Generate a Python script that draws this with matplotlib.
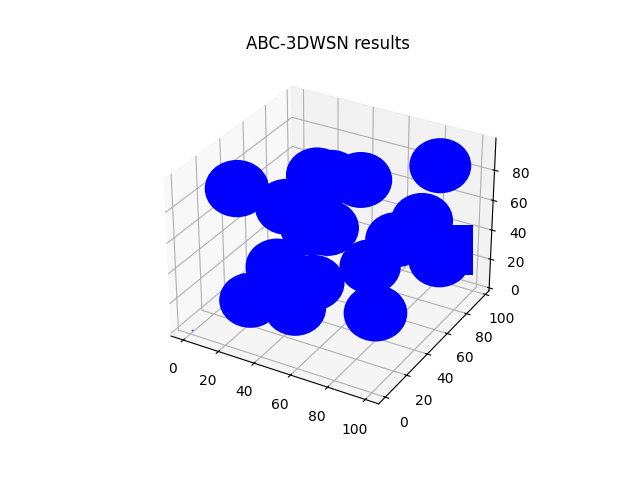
#!/usr/bin/env python3

import matplotlib
matplotlib.use('Agg')
import matplotlib.pyplot as plt
from matplotlib.path import Path
from matplotlib.transforms import Affine2D

# sensor coverage centres
xs = [6, 85, 50, 29, 37, 24, 53, 44, 95, 87, 101, 79, 31, 48, 26, 51, 94]
ys = [34, 90, 75, 69, 69, 49, 39, 39, 54, 44, 61, 34, 29, 34, 13, 13, 13]
zs = [76, 84, 72, 72, 73, 61, 63, 60, 73, 64, 45, 50, 36, 28, 22, 26, 39]
sizes = [2150, 1990, 2050, 1990, 1990, 2050, 2050, 1990, 1990, 1990, 1990, 1950, 2050, 2050, 1990, 1990, 2100]

# the block cut off at the x limit
block_x = [103]
block_y = [66]
block_z = [49]
block_size = [1330]

# lone sensor near the origin
lone_x = [1]
lone_y = [0]
lone_z = [1]

# spheres come out slightly wider than tall in this view
ellipse = Path.unit_circle().transformed(Affine2D().scale(1, 0.89))

fig = plt.figure()
ax = fig.add_subplot(projection='3d')

ax.scatter(xs, ys, zs, s=sizes, c='b', marker=ellipse, linewidths=0, depthshade=False)
ax.scatter(block_x, block_y, block_z, s=block_size, c='b', marker='s', linewidths=0, depthshade=False)
ax.scatter(lone_x, lone_y, lone_z, s=2, c='b', linewidths=0, alpha=0.7, depthshade=False)

ax.set_xlim(-7, 107)
ax.set_ylim(-6, 104)
ax.set_zlim(-2, 101)
ax.set_xticks([0, 20, 40, 60, 80, 100])
ax.set_yticks([0, 20, 40, 60, 80, 100])
ax.set_zticks([0, 20, 40, 60, 80])
ax.set_title('ABC-3DWSN results')

plt.savefig('out.png')
